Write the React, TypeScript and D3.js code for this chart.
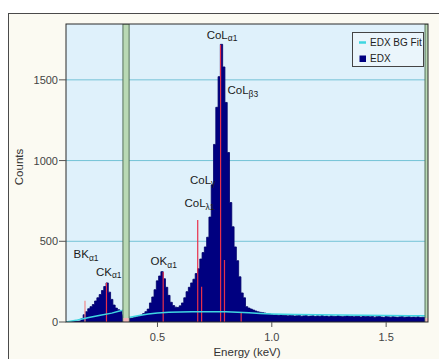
import React from 'react';
import * as d3 from 'd3';

// Histogram bins: centres start at BIN_START, spaced BIN_WIDTH keV
const BIN_START = 0.10;
const BIN_WIDTH = 0.01;
const counts = [
  0, 0, 1, 2, 3, 4, 6, 20, 45, 64,
  82, 95, 108, 130, 150, 170, 195, 220, 242, 185,
  140, 105, 86, 76, 70, 45, 25, 20, 22, 25,
  28, 32, 36, 42, 52, 64, 80, 118, 155, 200,
  255, 285, 312, 268, 215, 165, 122, 102, 92, 90,
  100, 118, 150, 188, 215, 242, 265, 300, 330, 390,
  430, 465, 525, 650, 850, 1100, 1330, 1520, 1720, 1580,
  1360, 1050, 740, 590, 465, 380, 280, 180, 150, 95,
  86, 80, 74, 68, 63, 60, 58, 55, 52, 50,
  46, 44, 45, 42, 44, 40, 42, 38, 40, 41,
  37, 39, 42, 36, 38, 40, 35, 37, 39, 34,
  38, 36, 40, 35, 37, 33, 38, 36, 34, 39,
  35, 33, 36, 38, 34, 35, 32, 36, 34, 31,
  35, 33, 36, 32, 34, 30, 33, 35, 31, 29,
  34, 32, 30, 33, 31, 29, 32, 34, 30, 31,
  33, 29, 31, 30, 32, 28, 30, 29,
];

// Background fit (EDX BG Fit)
const bgEnergy = [0.10, 0.15, 0.20, 0.25, 0.30, 0.33, 0.348, 0.352, 0.38, 0.42, 0.46, 0.50, 0.55, 0.60, 0.65, 0.70, 0.75, 0.80, 0.85, 0.90, 0.95, 1.00, 1.10, 1.20, 1.30, 1.40, 1.50, 1.60, 1.683];
const bgCounts = [0, 13, 28, 42, 55, 66, 72, 36, 30, 40, 50, 56, 60, 62, 63, 64, 64, 63, 60, 57, 53, 50, 47, 45, 44, 42, 40, 39, 38];

// Element line markers
const markerEnergy = [0.183, 0.277, 0.525, 0.676, 0.693, 0.776, 0.793, 0.866];
const markerCounts = [132, 243, 310, 632, 219, 1717, 384, 56];

// Peak labels
const labelMain = ['BK', 'CK', 'OK', 'CoL', 'CoL', 'CoL', 'CoL'];
const labelSub = ['α1', 'α1', 'α1', 'λ1', 'γ', 'α1', 'β3'];
const labelEnergy = [0.133, 0.231, 0.470, 0.618, 0.642, 0.715, 0.806];
const labelCounts = [396, 285, 353, 712, 855, 1756, 1412];

// Excluded regions (green bands)
const bandStart = [0.349, 1.670];
const bandEnd = [0.376, 1.690];

const xTicks = [0.5, 1.0, 1.5];
const xTickLabels = ['0.5', '1.0', '1.5'];
const yTicks = [0, 500, 1000, 1500];
const yTickLabels = ['0', '500', '1000', '1500'];

const legendNames = ['EDX BG Fit', 'EDX'];

const W = 439;
const H = 359;
const L = 66, R = 428, T = 24, B = 322;
const FONT = '"Liberation Sans", Arial, sans-serif';

export default function App() {
  const x = d3.scaleLinear().domain([0.1, 1.683]).range([L, R]);
  const y = d3.scaleLinear().domain([0, 1846]).range([B, T]);

  const histData = counts.map((v, i) => ({ e: BIN_START + i * BIN_WIDTH - BIN_WIDTH / 2, v }));
  histData.push({ e: BIN_START + (counts.length - 1) * BIN_WIDTH + BIN_WIDTH / 2, v: counts[counts.length - 1] });
  const area = d3.area<{ e: number; v: number }>()
    .x(d => x(d.e))
    .y0(y(0))
    .y1(d => y(d.v))
    .curve(d3.curveStepAfter);
  const histPath = area(histData) || '';

  const bgLine = d3.line<number>()
    .x((_, i) => x(bgEnergy[i]))
    .y(d => y(d));
  const bgPath = bgLine(bgCounts) || '';

  return (
    <svg width={W} height={H} style={{ position: 'absolute', left: 0, top: 0, display: 'block' }} fontFamily={FONT}>
      <defs>
        <clipPath id="plotclip">
          <rect x={L} y={T} width={R - L} height={B - T} />
        </clipPath>
      </defs>
      <rect x={0} y={0} width={W} height={H} fill="#ffffff" />
      <rect x={8.5} y={13.5} width={W} height={H} fill="#fbfaf2" stroke="#4a4a4a" strokeWidth={1} />
      <rect x={L} y={T} width={R - L} height={B - T} fill="#dff1fb" />
      {yTicks.filter(t => t > 0).map(t => (
        <line key={t} x1={L} x2={R} y1={y(t)} y2={y(t)} stroke="#74c3d6" strokeWidth={1} />
      ))}
      <g clipPath="url(#plotclip)">
        <path d={histPath} fill="#000080" stroke="#00006a" strokeWidth={0.8} strokeLinejoin="miter" />
        {markerEnergy.map((e, i) => (
          <line key={i} x1={x(e)} x2={x(e)} y1={y(0)} y2={y(markerCounts[i])}
            stroke={i === 0 ? '#f08a8a' : '#e8304a'} strokeWidth={1.2} />
        ))}
        <path d={bgPath} fill="none" stroke="#3fd6e0" strokeWidth={1.5} />
        {bandStart.map((s, i) => (
          <g key={i}>
            <rect x={x(s)} y={T} width={x(bandEnd[i]) - x(s)} height={B - T}
              fill="#b9d9b4" stroke="#55705a" strokeWidth={1} />
            <rect x={x(s) + 0.5} y={B - 4} width={x(bandEnd[i]) - x(s) - 1} height={4} fill="#f4b6b8" />
          </g>
        ))}
      </g>
      {labelMain.map((m, i) => (
        <text key={i} x={x(labelEnergy[i])} y={y(labelCounts[i])} fontSize={11.5} fill="#1a1a1a">
          {m}
          <tspan fontSize={8.5} dy={2.5}>{labelSub[i]}</tspan>
        </text>
      ))}
      <rect x={L} y={T} width={R - L} height={B - T} fill="none" stroke="#2a2a2a" strokeWidth={1} />
      {yTicks.map((t, i) => (
        <g key={t}>
          <line x1={L - 7} x2={L} y1={y(t)} y2={y(t)} stroke="#555" />
          <text x={L - 8} y={y(t)} dy="0.36em" textAnchor="end" fontSize={11} fill="#444">{yTickLabels[i]}</text>
        </g>
      ))}
      {xTicks.map((t, i) => (
        <g key={t}>
          <line x1={x(t)} x2={x(t)} y1={B} y2={B + 5} stroke="#555" />
          <text x={x(t)} y={340.5} textAnchor="middle" fontSize={11} fill="#444">{xTickLabels[i]}</text>
        </g>
      ))}
      <text x={(L + R) / 2} y={355.5} textAnchor="middle" fontSize={11.5} fill="#333">Energy (keV)</text>
      <text transform={`translate(23,167) rotate(-90)`} textAnchor="middle" fontSize={11.5} fill="#333">Counts</text>
      <g>
        <rect x={352.5} y={32.5} width={71} height={34} fill="#eaf5fb" stroke="#444" strokeWidth={1} />
        <line x1={359} x2={366} y1={42.5} y2={42.5} stroke="#3fd6e0" strokeWidth={2.5} />
        <text x={370} y={46} fontSize={10} fill="#222">{legendNames[0]}</text>
        <rect x={359.5} y={55.5} width={6.5} height={6.5} fill="#000080" />
        <text x={370} y={62} fontSize={10} fill="#222">{legendNames[1]}</text>
      </g>
    </svg>
  );
}
